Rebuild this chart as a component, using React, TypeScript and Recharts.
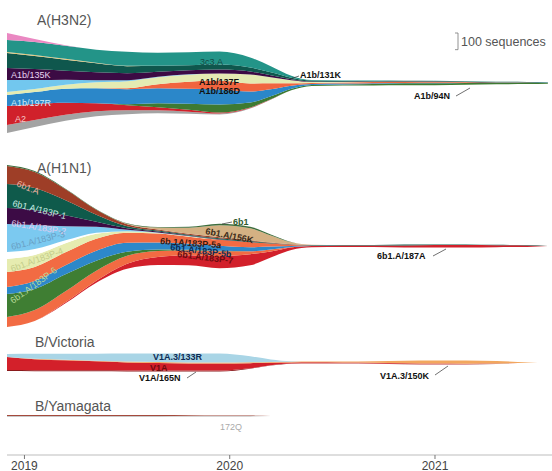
import { AreaChart, Area, XAxis, YAxis } from 'recharts';

// time points (decimal year)
const YEARS = [2018.915, 2019.05, 2019.2, 2019.35, 2019.5, 2019.65, 2019.8, 2019.95, 2020.1, 2020.2,
  2020.3, 2020.4, 2020.55, 2020.7, 2020.85, 2021.0, 2021.15, 2021.3, 2021.45, 2021.55];
const YEAR_TICKS = [2019, 2020, 2021];

// A(H3N2) subclades, sequences per time point
const H3_PINK = [42, 18, 3, 0, 0, 0, 0, 0, 0, 0, 0, 0, 0, 0, 0, 0, 0, 0, 0, 0];
const H3_3C3A = [72, 78, 78, 78, 84, 78, 78, 78, 60, 36, 12, 3, 2, 2, 1, 1, 1, 0, 0, 0];
const H3_THIN = [6, 6, 5, 3, 2, 0, 0, 0, 0, 0, 0, 0, 0, 0, 0, 0, 0, 0, 0, 0];
const H3_131K = [90, 78, 66, 54, 42, 36, 30, 30, 24, 18, 9, 5, 5, 4, 4, 3, 3, 3, 3, 2];
const H3_135K = [72, 66, 54, 48, 42, 30, 24, 24, 18, 12, 6, 3, 2, 1, 1, 1, 1, 0, 0, 0];
const H3_LBLUE = [72, 54, 30, 12, 6, 3, 2, 0, 0, 0, 0, 0, 0, 0, 0, 0, 0, 0, 0, 0];
const H3_137F = [18, 18, 24, 36, 42, 42, 42, 42, 54, 36, 18, 6, 3, 2, 1, 1, 0, 0, 0, 0];
const H3_186D = [0, 0, 0, 0, 6, 24, 42, 54, 48, 36, 15, 6, 6, 7, 7, 6, 4, 2, 1, 0];
const H3_197R = [66, 72, 84, 90, 90, 90, 90, 90, 66, 42, 18, 6, 5, 4, 2, 2, 1, 1, 1, 1];
const H3_94N = [0, 0, 0, 0, 6, 24, 36, 48, 30, 18, 9, 6, 6, 9, 12, 12, 11, 9, 7, 6];
const H3_A2 = [114, 96, 72, 48, 30, 18, 12, 6, 3, 2, 1, 0, 0, 0, 0, 0, 0, 0, 0, 0];
const H3_GRAY = [48, 42, 36, 30, 24, 18, 12, 6, 3, 1, 0, 0, 0, 0, 0, 0, 0, 0, 0, 0];

// A(H1N1)
const H1_6B1 = [6, 6, 3, 2, 2, 3, 6, 9, 9, 6, 2, 0, 0, 0, 0, 0, 0, 0, 0, 0];
const H1_156K = [0, 0, 0, 0, 3, 12, 36, 72, 72, 42, 12, 2, 0, 0, 0, 0, 0, 0, 0, 0];
const H1_6B1A = [108, 96, 66, 30, 12, 6, 5, 6, 5, 3, 2, 0, 0, 0, 0, 0, 0, 0, 0, 0];
const H1_P1 = [144, 132, 90, 42, 12, 6, 5, 6, 5, 3, 2, 2, 3, 3, 5, 4, 3, 2, 2, 0];
const H1_P2 = [96, 90, 66, 30, 9, 5, 3, 3, 2, 0, 0, 0, 0, 0, 0, 0, 0, 0, 0, 0];
const H1_P3 = [168, 144, 84, 36, 9, 3, 2, 0, 0, 0, 0, 0, 0, 0, 0, 0, 0, 0, 0, 0];
const H1_WHITE = [42, 36, 18, 6, 0, 0, 0, 0, 0, 0, 0, 0, 0, 0, 0, 0, 0, 0, 0, 0];
const H1_P4 = [78, 72, 54, 30, 9, 3, 2, 0, 0, 0, 0, 0, 0, 0, 0, 0, 0, 0, 0, 0];
const H1_P5A = [90, 84, 78, 72, 60, 54, 42, 36, 30, 18, 6, 2, 0, 0, 0, 0, 0, 0, 0, 0];
const H1_P5B = [42, 48, 54, 60, 54, 42, 36, 30, 24, 18, 6, 2, 0, 0, 0, 0, 0, 0, 0, 0];
const H1_P6 = [138, 126, 102, 60, 24, 9, 3, 2, 0, 0, 0, 0, 0, 0, 0, 0, 0, 0, 0, 0];
const H1_P7 = [60, 66, 66, 60, 48, 36, 30, 30, 18, 12, 3, 0, 0, 0, 0, 0, 0, 0, 0, 0];
const H1_187A = [0, 0, 6, 12, 30, 48, 60, 72, 66, 36, 15, 7, 9, 9, 12, 15, 15, 12, 9, 0];

// B/Victoria
const BV_133R = [18, 30, 36, 42, 48, 51, 54, 54, 36, 15, 3, 0, 0, 0, 0, 0, 0, 0, 0, 0];
const BV_150K = [0, 2, 3, 4, 5, 6, 6, 6, 5, 5, 5, 5, 6, 9, 15, 18, 19, 15, 3, 0];
const BV_V1A = [78, 66, 60, 54, 48, 45, 42, 42, 30, 15, 6, 6, 5, 5, 5, 5, 4, 2, 0, 0];
const BV_165N = [6, 6, 6, 6, 6, 6, 6, 6, 3, 2, 1, 1, 1, 1, 1, 1, 1, 1, 0, 0];

// B/Yamagata
const BY_RED = [6, 6, 6, 6, 6, 6, 5, 4, 2, 0, 0, 0, 0, 0, 0, 0, 0, 0, 0, 0];
const BY_172Q = [5, 5, 5, 5, 5, 5, 5, 6, 6, 0, 0, 0, 0, 0, 0, 0, 0, 0, 0, 0];

const SCALE_BAR = 100;
const PX_PER_SEQ = 1 / 6;
const W = 552;
const X_DOMAIN = [2018.915, 2021.57];
const FONT = '"Liberation Sans", Arial, Helvetica, sans-serif';

type Series = { key: string; color: string; values: number[] };

// listed bottom -> top
const H3N2: Series[] = [
  { key: 'gray', color: '#a3a3a3', values: H3_GRAY },
  { key: 'A2', color: '#d0212b', values: H3_A2 },
  { key: '94N', color: '#3e7a32', values: H3_94N },
  { key: '197R', color: '#2b87c9', values: H3_197R },
  { key: '186D', color: '#f1653f', values: H3_186D },
  { key: '137F', color: '#e4ebb2', values: H3_137F },
  { key: 'lblue', color: '#72c7ee', values: H3_LBLUE },
  { key: '135K', color: '#3c0b44', values: H3_135K },
  { key: '131K', color: '#0f574d', values: H3_131K },
  { key: 'thin', color: '#e7c778', values: H3_THIN },
  { key: '3c3A', color: '#239488', values: H3_3C3A },
  { key: 'pink', color: '#ea88c2', values: H3_PINK },
];

const H1N1: Series[] = [
  { key: '187A', color: '#d2202b', values: H1_187A },
  { key: 'p7', color: '#f26b43', values: H1_P7 },
  { key: 'p6', color: '#3f7e33', values: H1_P6 },
  { key: 'p5b', color: '#2d88c9', values: H1_P5B },
  { key: 'p5a', color: '#f26b43', values: H1_P5A },
  { key: 'p4', color: '#e6ecb0', values: H1_P4 },
  { key: 'white', color: '#ffffff', values: H1_WHITE },
  { key: 'p3', color: '#7bc9f0', values: H1_P3 },
  { key: 'p2', color: '#3c0b45', values: H1_P2 },
  { key: 'p1', color: '#0f5a4b', values: H1_P1 },
  { key: '6b1A', color: '#9e3e27', values: H1_6B1A },
  { key: '156K', color: '#d4b183', values: H1_156K },
  { key: '6b1', color: '#3d6d3c', values: H1_6B1 },
];

const BVIC: Series[] = [
  { key: '165N', color: '#8a1a1c', values: BV_165N },
  { key: 'V1A', color: '#d3202a', values: BV_V1A },
  { key: '150K', color: '#f2a75e', values: BV_150K },
  { key: '133R', color: '#a9d5e6', values: BV_133R },
];

const BYAM: Series[] = [
  { key: '172Q', color: '#c9c9c9', values: BY_172Q },
  { key: 'red', color: '#a54a3c', values: BY_RED },
];

function buildRows(series: Series[]) {
  return YEARS.map((t, i) => {
    const row: Record<string, number> = { t };
    series.forEach((s) => { row[s.key] = s.values[i]; });
    return row;
  });
}

function Stream({ series, top, height, axis = false }: { series: Series[]; top: number; height: number; axis?: boolean }) {
  const axisH = axis ? 25 : 0;
  const half = (height - axisH) / 2 / PX_PER_SEQ;
  return (
    <div style={{ position: 'absolute', left: 0, top }}>
      <AreaChart width={W} height={height} data={buildRows(series)} stackOffset="silhouette"
        margin={{ top: 0, right: 0, bottom: 0, left: 7 }}>
        <XAxis dataKey="t" type="number" domain={X_DOMAIN} ticks={YEAR_TICKS} hide={!axis}
          height={axisH || 1} interval={0} tickSize={4} tickMargin={2}
          axisLine={{ stroke: '#bdbdbd' }} tickLine={{ stroke: '#777' }}
          tick={{ fill: '#444', fontSize: 12, fontFamily: FONT }} />
        <YAxis hide domain={[-half, half]} allowDataOverflow />
        {series.map((s) => (
          <Area key={s.key} type="monotone" dataKey={s.key} stackId="s" fill={s.color} fillOpacity={1}
            stroke="none" dot={false} activeDot={false} isAnimationActive={false} />
        ))}
      </AreaChart>
    </div>
  );
}

const title = { fill: '#555', fontSize: 14, fontFamily: FONT };
const bold = { fontSize: 9, fontWeight: 700, fontFamily: FONT };
const thin = { fontSize: 9, fontFamily: FONT };

export default function App() {
  const barH = SCALE_BAR * PX_PER_SEQ;
  return (
    <div style={{ position: 'absolute', left: 0, top: 0, width: W, height: 471, background: '#fff' }}>
      <Stream series={H3N2} top={20} height={126} />
      <Stream series={H1N1} top={160} height={172} />
      <Stream series={BVIC} top={343} height={39} />
      <Stream series={BYAM} top={377} height={103} axis />

      <svg width={W} height={471} style={{ position: 'absolute', left: 0, top: 0, pointerEvents: 'none' }}>
        <text x={37} y={25} {...title}>A(H3N2)</text>
        <text x={37} y={173} {...title}>A(H1N1)</text>
        <text x={35} y={347} {...title}>B/Victoria</text>
        <text x={35} y={411} {...title}>B/Yamagata</text>

        {/* scale bar */}
        <path d={`M455,33 H458 V${33 + barH} H455`} fill="none" stroke="#777" strokeWidth={0.8} />
        <text x={461} y={46} fill="#555" fontSize={12.5} fontFamily={FONT}>100 sequences</text>

        {/* A(H3N2) labels */}
        <text x={11} y={78} fill="#e8d4f2" {...thin}>A1b/135K</text>
        <text x={11} y={106} fill="#d4ecf8" {...thin}>A1b/197R</text>
        <text x={15} y={122} fill="#f6c9c9" {...thin}>A2</text>
        <text x={200} y={65} fill="#124a44" {...thin}>3c3.A</text>
        <text x={199} y={85} fill="#111" {...bold}>A1b/137F</text>
        <text x={199} y={94} fill="#111" {...bold}>A1b/186D</text>
        <path d="M290,79 L299,76" stroke="#333" strokeWidth={0.7} />
        <text x={300} y={78} fill="#111" {...bold}>A1b/131K</text>
        <path d="M456,96 L470,88" stroke="#333" strokeWidth={0.7} />
        <text x={414} y={99} fill="#111" {...bold}>A1b/94N</text>

        {/* A(H1N1) labels */}
        <text x={16} y={186} fill="#f2b4a4" {...thin} transform="rotate(22 16 186)">6b1.A</text>
        <text x={12} y={206} fill="#c6ebe2" {...thin} transform="rotate(14 12 206)">6b1.A/183P-1</text>
        <text x={11} y={226} fill="#e2cdf0" {...thin} transform="rotate(9 11 226)">6b1.A/183P-2</text>
        <text x={12} y={250} fill="#6aa0c4" {...thin} transform="rotate(-14 12 250)">6b1.A/183P-3</text>
        <text x={12} y={272} fill="#c4cc8a" {...thin} transform="rotate(-20 12 272)">6b1.A/183P-4</text>
        <text x={13} y={304} fill="#b7dc98" {...thin} transform="rotate(-36 13 304)">6b1.A/183P-6</text>
        <path d="M222,224 L232,222" stroke="#333" strokeWidth={0.7} />
        <text x={233} y={225} fill="#2f5a2e" {...bold}>6b1</text>
        <text x={205} y={234} fill="#3b2a18" {...bold} transform="rotate(11 205 234)">6b1.A/156K</text>
        <text x={160} y={244} fill="#3a1a10" {...bold} transform="rotate(4 160 244)">6b.1A/183P-5a</text>
        <text x={170} y={250} fill="#0b2b55" {...bold} transform="rotate(7 170 250)">6b1.A/183P-5b</text>
        <text x={177} y={257} fill="#6b0c10" {...bold} transform="rotate(7 177 257)">6b1.A/183P-7</text>
        <path d="M433,256 L446,249" stroke="#333" strokeWidth={0.7} />
        <text x={377} y={259} fill="#111" {...bold}>6b1.A/187A</text>

        {/* B/Victoria labels */}
        <text x={153} y={360} fill="#0d2c55" {...bold}>V1A.3/133R</text>
        <text x={150} y={371} fill="#6e0b0e" {...bold}>V1A</text>
        <path d="M187,378 L196,372" stroke="#333" strokeWidth={0.7} />
        <text x={139} y={381} fill="#111" {...bold}>V1A/165N</text>
        <path d="M435,375 L448,366" stroke="#333" strokeWidth={0.7} />
        <text x={380} y={379} fill="#111" {...bold}>V1A.3/150K</text>

        {/* B/Yamagata label */}
        <text x={220} y={430} fill="#aaa" {...thin}>172Q</text>
      </svg>
    </div>
  );
}
